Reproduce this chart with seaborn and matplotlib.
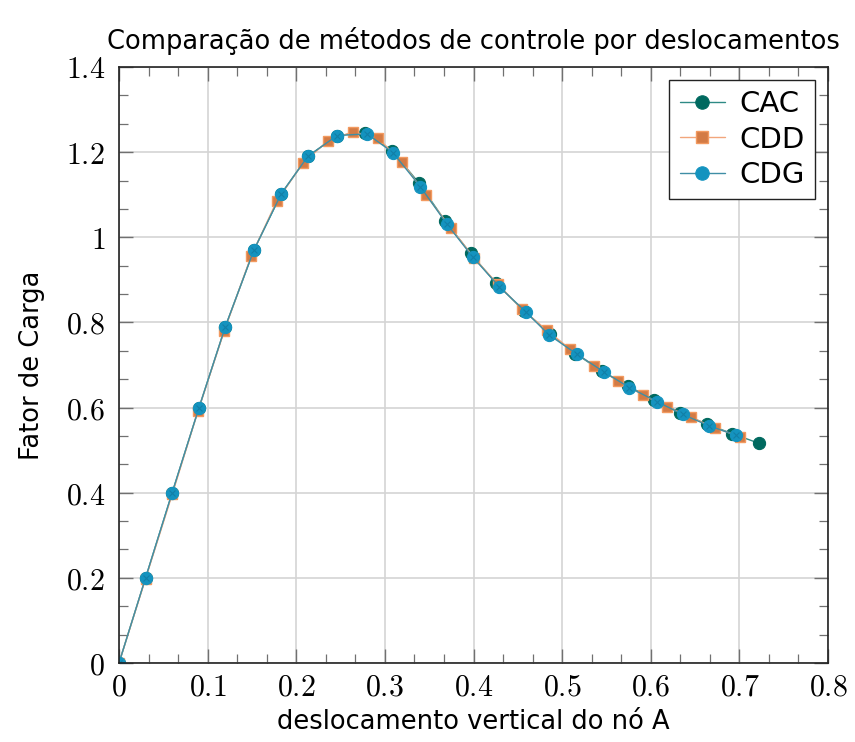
import numpy as np
import pandas as pd
import matplotlib
matplotlib.use("Agg")
import matplotlib.pyplot as plt
from matplotlib.ticker import MultipleLocator, AutoMinorLocator, FuncFormatter
import seaborn as sns

# ---- data ----
cac_x = [0.0, 0.030, 0.060, 0.090, 0.120, 0.152, 0.183, 0.213, 0.246, 0.278, 0.3085,
         0.3386, 0.3678, 0.3967, 0.4255, 0.457, 0.4865, 0.515, 0.545, 0.574, 0.604,
         0.6335, 0.6632, 0.6918, 0.7222]
cac_y = [0.0, 0.200, 0.400, 0.598, 0.790, 0.969, 1.102, 1.190, 1.239, 1.246, 1.203,
         1.127, 1.039, 0.962, 0.892, 0.827, 0.773, 0.727, 0.685, 0.651, 0.618,
         0.588, 0.561, 0.539, 0.516]

cdd_x = [0.0, 0.030, 0.060, 0.0892, 0.1189, 0.149, 0.178, 0.2075, 0.2359, 0.2641, 0.2925,
         0.3198, 0.3465, 0.3742, 0.4008, 0.4274, 0.4548, 0.4826, 0.5092, 0.5363, 0.5636,
         0.5908, 0.6183, 0.6457, 0.6727, 0.7004]
cdd_y = [0.0, 0.198, 0.396, 0.592, 0.781, 0.955, 1.085, 1.174, 1.227, 1.248, 1.2325,
         1.176, 1.099, 1.0226, 0.951, 0.890, 0.831, 0.782, 0.737, 0.698, 0.662,
         0.630, 0.602, 0.577, 0.552, 0.532]

cdg_x = [0.0, 0.030, 0.060, 0.090, 0.120, 0.152, 0.183, 0.213, 0.246, 0.280, 0.309,
         0.340, 0.370, 0.399, 0.429, 0.459, 0.485, 0.517, 0.547, 0.576, 0.607,
         0.636, 0.666, 0.696]
cdg_y = [0.0, 0.200, 0.400, 0.598, 0.790, 0.969, 1.102, 1.190, 1.239, 1.243, 1.199,
         1.119, 1.031, 0.954, 0.884, 0.825, 0.771, 0.725, 0.684, 0.647, 0.614,
         0.584, 0.557, 0.535]

labels = ["CAC", "CDD", "CDG"]
title = "Comparação de métodos de controle por deslocamentos"
xlabel = "deslocamento vertical do nó A"
ylabel = "Fator de Carga"

sns.set_theme(style="white")
plt.rcParams["font.family"] = ["DejaVu Sans"]
plt.rcParams["mathtext.fontset"] = "cm"
plt.rcParams["text.color"] = "black"
plt.rcParams["axes.labelcolor"] = "black"

fig = plt.figure(figsize=(8.55, 7.42), dpi=100)
ax = fig.add_axes([119/855, 1-663/742, (828-119)/855, (663-67)/742])

df_cac = pd.DataFrame({"x": cac_x, "y": cac_y})
df_cdd = pd.DataFrame({"x": cdd_x, "y": cdd_y})
df_cdg = pd.DataFrame({"x": cdg_x, "y": cdg_y})

sns.lineplot(data=df_cac, x="x", y="y", ax=ax, sort=False, estimator=None,
             color="#2e8a85", lw=1.0, marker="o", markersize=8.8,
             markerfacecolor="#00695f", markeredgecolor="#00695f", label=labels[0])
sns.lineplot(data=df_cdd, x="x", y="y", ax=ax, sort=False, estimator=None,
             color="#f2a67c", lw=1.0, marker="s", markersize=7.8,
             markerfacecolor="#d37b45", markeredgecolor="#f39a60", markeredgewidth=1.0,
             label=labels[1])
sns.lineplot(data=df_cdg, x="x", y="y", ax=ax, sort=False, estimator=None,
             color="#3f8ea5", lw=1.0, marker="o", markersize=8.8,
             markerfacecolor="#1493bf", markeredgecolor="#1493bf", label=labels[2])
ax.plot(df_cdg["x"], df_cdg["y"], ls="none", marker="x", markersize=4.5,
        mec="#127fa6", mew=0.8)

ax.set_xlim(0, 0.8)
ax.set_ylim(0, 1.4)
ax.xaxis.set_major_locator(MultipleLocator(0.1))
ax.yaxis.set_major_locator(MultipleLocator(0.2))
ax.xaxis.set_minor_locator(AutoMinorLocator(3))
ax.yaxis.set_minor_locator(AutoMinorLocator(3))
fmt = FuncFormatter(lambda v, p: "$%s$" % ("%g" % round(v, 3)))
ax.xaxis.set_major_formatter(fmt)
ax.yaxis.set_major_formatter(fmt)

ax.grid(True, which="major", color="#d4d4d4", lw=1.2)
ax.set_axisbelow(True)
ax.tick_params(which="both", direction="in", top=True, right=True,
               bottom=True, left=True, color="#707070", labelsize=21.5, labelcolor="black")
ax.tick_params(which="major", length=10, width=1.0)
ax.tick_params(which="minor", length=6.5, width=0.9)
ax.tick_params(axis="x", pad=7)
ax.tick_params(axis="y", pad=10)
for s in ax.spines.values():
    s.set_color("#222222")
    s.set_linewidth(1.2)

ax.set_title(title, fontsize=18.5, pad=13)
ax.set_xlabel(xlabel, fontsize=18.5, labelpad=5)
ax.set_ylabel(ylabel, fontsize=18.5, labelpad=15)

leg = ax.legend(loc="upper right", fontsize=21, frameon=True, fancybox=False,
                edgecolor="#222222", framealpha=1, borderpad=0.35, labelspacing=0.25,
                handlelength=1.55, handletextpad=0.5, borderaxespad=0.45,
                markerscale=1.1)
leg.get_frame().set_linewidth(1.0)

fig.savefig("out.png", dpi=100)
